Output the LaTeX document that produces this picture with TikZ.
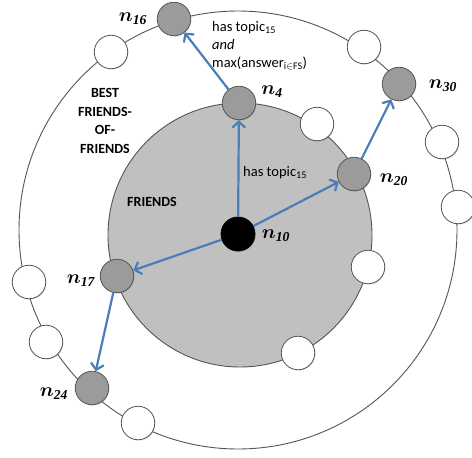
\documentclass[tikz,border=0pt]{standalone}
\usepackage{fix-cm}
\usepackage{amsmath,bm}
\usepackage{fontspec}
\setmainfont{Carlito}
\newfontfamily\subfont{Liberation Serif}
\usetikzlibrary{arrows.meta,shadows}
\definecolor{arrblue}{HTML}{4A7EBB}
\definecolor{ringgray}{HTML}{C0C0C0}
\definecolor{nodegray}{HTML}{9B9B9B}
\definecolor{edgegray}{HTML}{555555}
\newcommand{\nlab}[1]{$\bm{n}_{\text{\subfont\bfseries\itshape #1}}$}
\tikzset{
  basenode/.style={circle,draw=edgegray,line width=0.8pt,minimum size=33.5pt,inner sep=0pt,
    circular drop shadow={shadow scale=1,shadow xshift=0.8pt,shadow yshift=-1pt,opacity=0.25,fill=black}},
  gnode/.style={basenode,fill=nodegray},
  wnode/.style={basenode,fill=white},
  cnode/.style={basenode,fill=black,draw=black,minimum size=34pt},
  arr/.style={draw=arrblue,line width=2.2pt,-{Straight Barb[length=6pt,width=13pt]}},
  nlabel/.style={font=\fontsize{19.5}{19.5}\selectfont,inner sep=0pt},
  txt/.style={font=\fontsize{14.5}{18}\selectfont,inner sep=0pt},
  region/.style={font=\fontsize{14}{18.5}\selectfont\bfseries,inner sep=0pt,align=center}
}
\begin{document}
\begin{tikzpicture}[x=1pt,y=-1pt]
\useasboundingbox (0,0) rectangle (472,458);
\fill[white] (0,0) rectangle (472,458);
% rings
\draw[edgegray,line width=0.9pt] (238,230) circle[radius=219];
\draw[edgegray,fill=ringgray,line width=0.9pt] (240,235) circle[radius=132];
% white nodes, outer ring
\node[wnode] (w1) at (111,52) {};
\node[wnode] (w2) at (364,47) {};
\node[wnode] (w3) at (442,142) {};
\node[wnode] (w4) at (458,207) {};
\node[wnode] (w5) at (29,282) {};
\node[wnode] (w6) at (46,342) {};
\node[wnode] (w7) at (138,423) {};
% white nodes, inner ring
\node[wnode] (w8) at (317,124) {};
\node[wnode] (w9) at (368,267) {};
\node[wnode] (w10) at (298,353) {};
% gray nodes
\node[gnode] (n16) at (174,19) {};
\node[gnode] (n30) at (399,84) {};
\node[gnode] (n24) at (92,388) {};
\node[gnode] (n4) at (239,103) {};
\node[gnode] (n20) at (354,174) {};
\node[gnode] (n17) at (117,276) {};
\node[cnode] (n10) at (238,234) {};
% arrows
\draw[arr] (n10) -- (n4);
\draw[arr] (n4) -- (n16);
\draw[arr] (n10) -- (n20);
\draw[arr] (n20) -- (n30);
\draw[arr] (n10) -- (n17);
\draw[arr] (n17) -- (n24);
% node labels
\node[nlabel] (l16) at (133,19) {\nlab{16}};
\node[nlabel] (l4) at (272,92) {\nlab{4}};
\node[nlabel] (l30) at (443,86) {\nlab{30}};
\node[nlabel] (l20) at (394,180) {\nlab{20}};
\node[nlabel] (l10) at (276,236) {\nlab{10}};
\node[nlabel] (l17) at (81,281) {\nlab{17}};
\node[nlabel] (l24) at (54,394) {\nlab{24}};
% texts
\node[txt,anchor=base west] (t1) at (212,31) {has topic\textsubscript{15}};
\node[txt,anchor=base west] (t2) at (212,49) {\itshape and};
\node[txt,anchor=base west] (t3) at (212,67) {max(answer\textsubscript{i$\in$FS})};
\node[txt,anchor=base west] (t4) at (243,176) {has topic\textsubscript{15}};
\node[region] (bf) at (105,121) {BEST\\FRIENDS-\\OF-\\FRIENDS};
\node[region] (fr) at (152,202) {FRIENDS};
\end{tikzpicture}
\end{document}
